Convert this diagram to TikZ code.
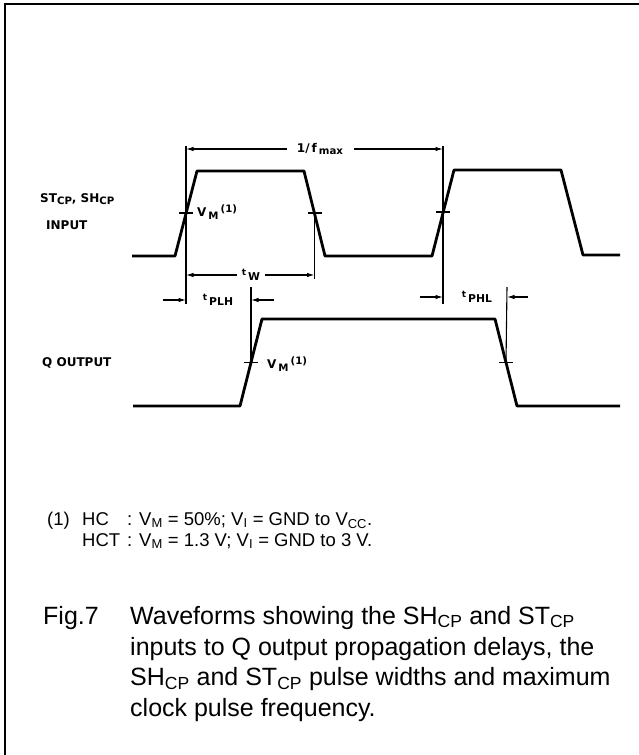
\documentclass[tikz,border=0pt]{standalone}
\usepackage{fontspec}
\setmainfont{Liberation Sans}
\newfontfamily\lblfont{DejaVu Sans}
\usetikzlibrary{arrows.meta}
\newcommand{\lo}[1]{\textsubscript{#1}}
\newcommand{\dlo}[1]{\raisebox{-2.6pt}{\scalebox{0.85}{#1}}}
\newcommand{\dhi}[1]{\raisebox{4.5pt}{\scalebox{0.85}{#1}}}
\newcommand{\tlbl}[1]{\raisebox{3pt}{\scalebox{0.75}{t}}\,\raisebox{-2.5pt}{\scalebox{0.9}{#1}}}
\begin{document}
\begin{tikzpicture}[x=1pt,y=-1pt,
  wave/.style={line width=2.8pt,line join=round,line cap=butt},
  dim/.style={line width=1.1pt},
  arr/.style={dim,-{Latex[length=7.5pt,width=4.5pt]}},
  tickmark/.style={line width=1.2pt},
  lbl/.style={font=\lblfont\fontsize{12}{13}\bfseries\selectfont,inner sep=0pt},
  foot/.style={font=\fontsize{18.5}{21}\selectfont,inner sep=0pt,anchor=base west},
  captxt/.style={font=\fontsize{25}{30}\selectfont,inner sep=0pt,anchor=base west}]
\useasboundingbox (0,0) rectangle (639,755);
% frame
\draw[line width=2pt] (5,755) -- (5,4) -- (639,4);
% input waveform
\draw[wave] (132,256) -- (175,256) -- (197,171) -- (304,171) -- (325,256)
  -- (432,256) -- (454,170) -- (561,170) -- (583,255) -- (620,255);
\coordinate (r1) at (186,213);
\coordinate (f1) at (314.5,213);
\coordinate (r2) at (443,212);
% output waveform
\draw[wave] (133,406) -- (240,406) -- (262,319) -- (495,319) -- (517,406) -- (620,406);
\coordinate (ro) at (251,362.5);
\coordinate (fo) at (506,362.5);
% ticks
\foreach \c in {r1,f1,r2,ro,fo}
  \draw[tickmark] ([xshift=-7pt]\c) -- ([xshift=7pt]\c);
% reference verticals
\coordinate (r1t) at (186,146);  \coordinate (r1b) at (186,304);
\coordinate (f1b) at (314.5,279);
\coordinate (r2t) at (443,146);  \coordinate (r2b) at (443,304);
\coordinate (rot) at (251,287);
\coordinate (fot) at (507,287);
\draw[dim] (r1t) -- (r1b);
\draw[dim] (f1) -- (f1b);
\draw[dim] (r2t) -- (r2b);
\draw[dim] (rot) -- (ro);
\draw[dim] (fot) -- (fo);
% 1/fmax
\node[lbl] (fmax) at (320,149) {1/\,f\,\dlo{max}};
\draw[arr] ([xshift=-10pt]fmax.west) -- (r1t |- fmax.west);
\draw[arr] ([xshift=11pt]fmax.east) -- (r2t |- fmax.east);
% tW
\node[lbl] (tw) at (251,275) {\tlbl{W}};
\draw[arr] ([xshift=-5pt]tw.west) -- (r1t |- tw.west);
\draw[arr] ([xshift=5pt]tw.east) -- (f1b |- tw.east);
% tPLH
\node[lbl] (tplh) at (218,300) {\tlbl{PLH}};
\coordinate (plhl) at (163,300);
\coordinate (plhr) at (274,300);
\draw[arr] (plhl) -- (r1t |- plhl);
\draw[arr] (plhr) -- (rot |- plhr);
% tPHL
\node[lbl] (tphl) at (477,297) {\tlbl{PHL}};
\coordinate (phll) at (420,297);
\coordinate (phlr) at (528,297);
\draw[arr] (phll) -- (r2t |- phll);
\draw[arr] (phlr) -- (fot |- phlr);
% labels
\node[lbl,anchor=west] (vm1) at (197,212) {V\,\dlo{M}\,\dhi{(1)}};
\node[lbl,anchor=west] (vm2) at (267,364) {V\,\dlo{M}\,\dhi{(1)}};
\node[lbl,anchor=west] (inname) at (40,199) {ST\dlo{CP}, SH\dlo{CP}};
\node[lbl,anchor=west] (input) at (46,225) {INPUT};
\node[lbl,anchor=west] (qout) at (42,363) {Q OUTPUT};
% footnote
\node[foot] (n1) at (47,525) {(1)};
\node[foot] (n2) at (82,525) {HC};
\node[foot] (n3) at (127,525) {: V\lo{M} = 50\%; V\lo{I} = GND to V\lo{CC}.};
\node[foot] (n4) at (82,546) {HCT};
\node[foot] (n5) at (127,546) {: V\lo{M} = 1.3 V; V\lo{I} = GND to 3 V.};
% caption
\node[captxt] (fig) at (43,624) {Fig.7};
\node[captxt] (c1) at (130,624) {Waveforms showing the SH\lo{CP} and ST\lo{CP}};
\node[captxt] (c2) at (130,655) {inputs to Q output propagation delays, the};
\node[captxt] (c3) at (130,685.5) {SH\lo{CP} and ST\lo{CP} pulse widths and maximum};
\node[captxt] (c4) at (130,716) {clock pulse frequency.};
\end{tikzpicture}
\end{document}
